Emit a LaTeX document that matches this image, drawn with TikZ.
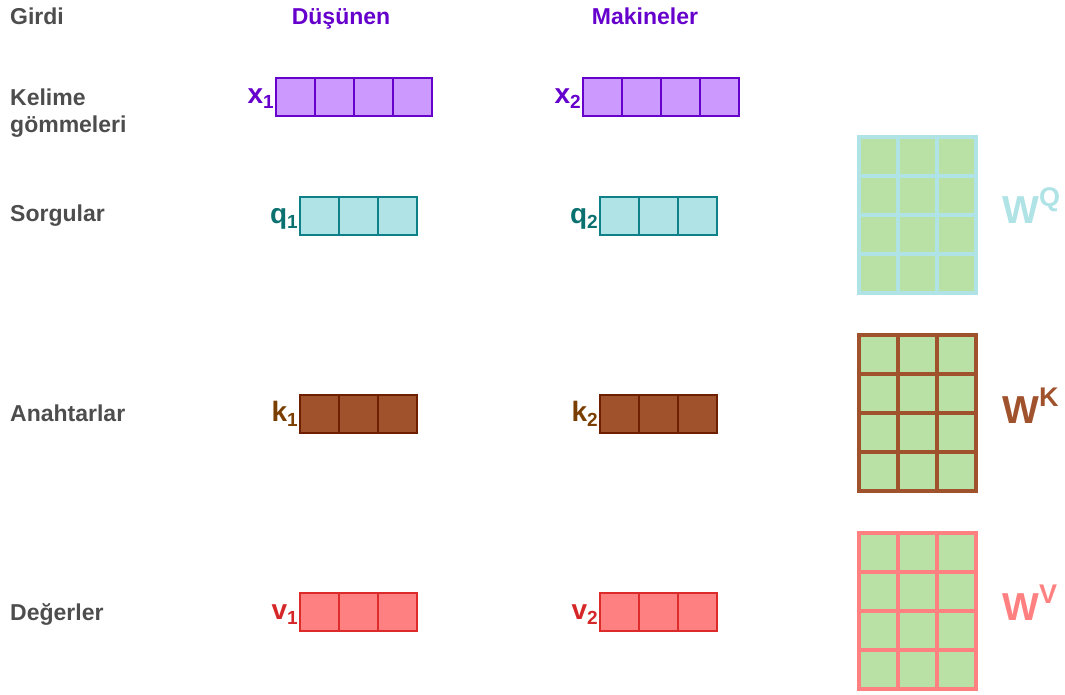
\documentclass[tikz,border=0pt]{standalone}
\usepackage{fontspec}
\setmainfont{Liberation Sans}
\definecolor{lbl}{HTML}{4D4D4D}
\definecolor{purpFill}{HTML}{CC99FF}
\definecolor{purpLine}{HTML}{6600CC}
\definecolor{tealFill}{HTML}{B0E3E6}
\definecolor{tealLine}{HTML}{0E8088}
\definecolor{tealText}{HTML}{0B7070}
\definecolor{brownFill}{HTML}{A0522D}
\definecolor{brownLine}{HTML}{6D1F00}
\definecolor{brownText}{HTML}{7A3E00}
\definecolor{redFill}{HTML}{FF8080}
\definecolor{redLine}{HTML}{DD2A2A}
\definecolor{redText}{HTML}{D62728}
\definecolor{matFill}{HTML}{B9E0A5}
\newcommand\myvec[5]{%
  \foreach \i in {1,...,#4} \node[vcell,#5] (#1c\i) at ({#2+19.5+39*(\i-1)},#3) {};}
\newcommand\mymat[3]{%
  \foreach \r in {1,...,4} \foreach \c in {1,...,3}
    \node[mcell,draw=#3] (#1\r\c) at ({859+19.5+39*(\c-1)},{#2+19.5+39*(\r-1)}) {};}
\newcommand\sublab[2]{#1\raisebox{-5pt}{\fontsize{19}{21}\selectfont #2}}
\newcommand\suplab[2]{W\raisebox{17pt}{\fontsize{27}{29}\selectfont #2}}
\begin{document}
\begin{tikzpicture}[x=1pt,y=-1pt,
  txt/.style={font=\bfseries\fontsize{23}{27}\selectfont, inner sep=0},
  side/.style={txt, text=lbl, anchor=base west},
  head/.style={txt, text=purpLine, anchor=base},
  vcell/.style={draw, inner sep=0, minimum width=39pt, minimum height=38.5pt, line width=2pt},
  mcell/.style={fill=matFill, inner sep=0, minimum width=39pt, minimum height=39pt, line width=3.6pt},
  vlab/.style={font=\bfseries\fontsize{28}{30}\selectfont, inner sep=1pt, anchor=base east, yshift=-7pt},
  wlab/.style={font=\bfseries\fontsize{39}{42}\selectfont, inner sep=0, anchor=base west}]
\useasboundingbox (0,0) rectangle (1065,695);
% left labels
\node[side] (girdi) at (10,25) {Girdi};
\node[side] (kel1) at (10,106) {Kelime};
\node[side] (kel2) at (10,133) {gömmeleri};
\node[side] (sorg) at (10,222) {Sorgular};
\node[side] (anah) at (10,421) {Anahtarlar};
\node[side] (deger) at (10,620) {Değerler};
% headers
\node[head] (dus) at (341,25) {Düşünen};
\node[head] (mak) at (645,25) {Makineler};
% vectors
\myvec{xa}{276}{97}{4}{fill=purpFill, draw=purpLine}
\myvec{xb}{583}{97}{4}{fill=purpFill, draw=purpLine}
\myvec{qa}{300}{216}{3}{fill=tealFill, draw=tealLine}
\myvec{qb}{600}{216}{3}{fill=tealFill, draw=tealLine}
\myvec{ka}{300}{414}{3}{fill=brownFill, draw=brownLine}
\myvec{kb}{600}{414}{3}{fill=brownFill, draw=brownLine}
\myvec{va}{300}{612}{3}{fill=redFill, draw=redLine}
\myvec{vb}{600}{612}{3}{fill=redFill, draw=redLine}
% vector labels
\node[vlab, text=purpLine] (lxa) at (xac1.west) {\sublab{x}{1}};
\node[vlab, text=purpLine] (lxb) at (xbc1.west) {\sublab{x}{2}};
\node[vlab, text=tealText] (lqa) at (qac1.west) {\sublab{q}{1}};
\node[vlab, text=tealText] (lqb) at (qbc1.west) {\sublab{q}{2}};
\node[vlab, text=brownText] (lka) at (kac1.west) {\sublab{k}{1}};
\node[vlab, text=brownText] (lkb) at (kbc1.west) {\sublab{k}{2}};
\node[vlab, text=redText] (lva) at (vac1.west) {\sublab{v}{1}};
\node[vlab, text=redText] (lvb) at (vbc1.west) {\sublab{v}{2}};
% matrices
\mymat{wq}{137}{tealFill}
\mymat{wk}{335}{brownFill}
\mymat{wv}{533}{redFill}
\node[wlab, text=tealFill] (lwq) at (1002,223) {\suplab{W}{Q}};
\node[wlab, text=brownFill] (lwk) at (1002,423) {\suplab{W}{K}};
\node[wlab, text=redFill] (lwv) at (1002,620) {\suplab{W}{V}};
\end{tikzpicture}
\end{document}
